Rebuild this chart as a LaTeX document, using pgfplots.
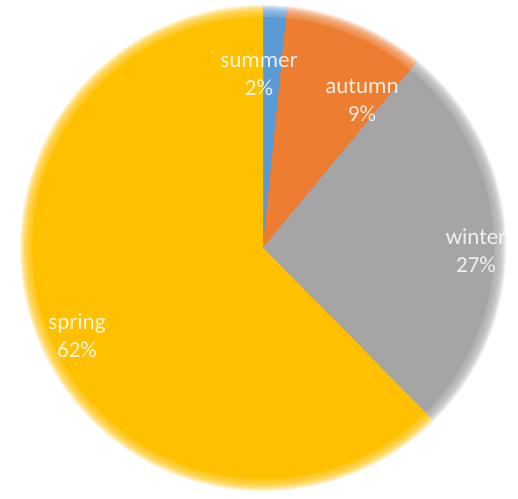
\documentclass[border=0pt]{standalone}
\usepackage{pgfplots}
\pgfplotsset{compat=1.18}
\usepackage{fontspec}
\setmainfont{Carlito}
\definecolor{cSummer}{HTML}{5B9BD5}
\definecolor{cAutumn}{HTML}{ED7D31}
\definecolor{cWinter}{HTML}{A5A5A5}
\definecolor{cSpring}{HTML}{FFC000}
\newcommand\slicefill[4]{% color/style, start angle, end angle, radius
  \fill[#1] (axis cs:263,250) -- ++(#2:#4) arc[start angle=#2,end angle=#3,radius=#4] -- cycle;}
\newcommand\slice[3]{%
  \slicefill{#1,opacity=0.16}{#2}{#3}{121.5pt}%
  \slicefill{#1,opacity=0.16}{#2}{#3}{121pt}%
  \slicefill{#1,opacity=0.16}{#2}{#3}{120.5pt}%
  \slicefill{#1,opacity=0.16}{#2}{#3}{120pt}%
  \slicefill{#1,opacity=0.16}{#2}{#3}{119.5pt}%
  \slicefill{#1,opacity=0.16}{#2}{#3}{119pt}%
  \slicefill{#1,opacity=0.16}{#2}{#3}{118.5pt}%
  \slicefill{#1,opacity=0.16}{#2}{#3}{118pt}%
  \slicefill{#1,opacity=0.16}{#2}{#3}{117.5pt}%
  \slicefill{#1,opacity=0.16}{#2}{#3}{117pt}%
  \slicefill{#1,opacity=0.16}{#2}{#3}{116.5pt}%
  \slicefill{#1,opacity=0.16}{#2}{#3}{116pt}%
  \slicefill{#1}{#2}{#3}{115.5pt}}
\begin{document}
\begin{tikzpicture}
% data (percent of total)
\def\vSummer{1.6}
\def\vAutumn{9.4}
\def\vWinter{26.6}
\def\vSpring{62.4}
\pgfmathsetmacro\aA{90}
\pgfmathsetmacro\aB{\aA-3.6*\vSummer}
\pgfmathsetmacro\aC{\aB-3.6*\vAutumn}
\pgfmathsetmacro\aD{\aC-3.6*\vWinter}
\pgfmathsetmacro\aE{\aD-3.6*\vSpring}
\begin{axis}[width=259pt,height=249pt,scale only axis,hide axis,
  xmin=0,xmax=518,ymin=0,ymax=498,clip=false]
\slice{cSummer}{\aA}{\aB}
\slice{cAutumn}{\aB}{\aC}
\slice{cWinter}{\aC}{\aD}
\slice{cSpring}{\aD}{\aE}
\begin{scope}[every node/.style={text=white,opacity=0.85,align=center,font=\fontsize{11.5pt}{14pt}\selectfont}]
\node at (axis cs:259,422) {summer\\2\%};
\node at (axis cs:362,398) {autumn\\9\%};
\node at (axis cs:476,247) {winter\\27\%};
\node at (axis cs:77,162) {spring\\62\%};
\end{scope}
\end{axis}
\pgfresetboundingbox
\path (0,0) rectangle (259pt,249pt);
\end{tikzpicture}
\end{document}
